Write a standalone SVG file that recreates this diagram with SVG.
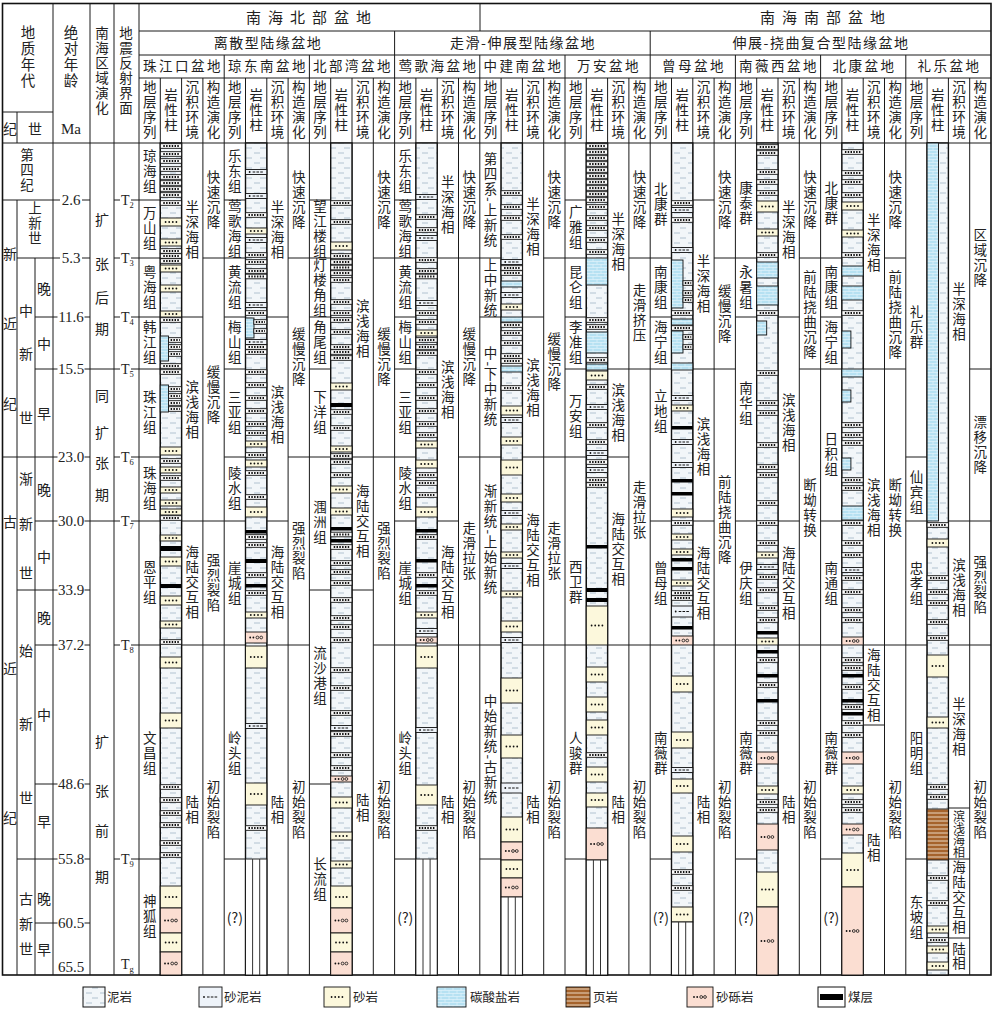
<svg xmlns="http://www.w3.org/2000/svg" xmlns:xlink="http://www.w3.org/1999/xlink" width="993" height="1013" viewBox="0 0 993 1013">
<style>
.g{stroke:#1a1a1a;stroke-width:1;fill:none}
.o{stroke:#111;stroke-width:1.6;fill:none}
.v{font-family:"Noto Sans CJK SC",sans-serif;font-size:13.5px;writing-mode:vertical-rl;text-anchor:middle;letter-spacing:1.5px;fill:#222}
.vl{font-family:"Noto Sans CJK SC",sans-serif;font-size:13.5px;writing-mode:vertical-rl;text-anchor:middle;letter-spacing:1.5px;fill:#222}
.c{font-family:"Noto Sans CJK SC",sans-serif;font-size:14px;text-anchor:middle;dominant-baseline:central;fill:#222}
.h{font-family:"Noto Sans CJK SC",sans-serif;font-size:14px;text-anchor:middle;fill:#222}
.lg{font-family:"Noto Sans CJK SC",sans-serif;font-size:12.5px;fill:#222}
.n{font-family:"Liberation Serif",serif;font-size:15px;text-anchor:middle;fill:#222}
.t{font-family:"Liberation Serif",serif;font-size:14px;fill:#222}
.lc{fill:url(#mud);stroke:#111;stroke-width:1.4}
.ss{fill:#fcf8dc;stroke:#111;stroke-width:.9}
.cb{fill:url(#carb);stroke:#111;stroke-width:.9}
.gr{fill:#fbded2;stroke:#111;stroke-width:.9}
.sm{fill:#eef3f9;stroke:#111;stroke-width:.9}
.sh{fill:url(#shale);stroke:#111;stroke-width:.9}
.vh{fill:#fff;stroke:#111;stroke-width:.9}
.tbx{fill:#fff;stroke:#111;stroke-width:.9}
.tbd{stroke:#111;stroke-width:2;stroke-dasharray:1.5 1.3;fill:none}
</style>
<defs>
<pattern id="mud" patternUnits="userSpaceOnUse" width="14" height="10"><rect width="14" height="10" fill="#f2f6f9"/><path d="M2 3h6M8 8h6" stroke="#a9bccb" stroke-width=".9"/></pattern>
<pattern id="carb" patternUnits="userSpaceOnUse" width="8" height="6"><rect width="8" height="6" fill="#b6e1f2"/><path d="M0 .5h8M0 3.5h8M1 .5v3M5 3.5v3" stroke="#e6f5fb" stroke-width=".6"/></pattern>
<pattern id="shale" patternUnits="userSpaceOnUse" width="6" height="4"><rect width="6" height="4" fill="#a5632c"/><path d="M0 1h6" stroke="#f2e4d2" stroke-width=".9"/></pattern>
<g id="d4" fill="#111"><circle cx="-5.4" r=".9"/><circle cx="-1.8" r=".9"/><circle cx="1.8" r=".9"/><circle cx="5.4" r=".9"/></g>
<g id="g4"><circle cx="-6" r=".9" fill="#111"/><circle cx="-2.8" r=".9" fill="#111"/><circle cx="1.2" r="1.4" fill="none" stroke="#111" stroke-width=".8"/><circle cx="5" r="1.4" fill="none" stroke="#111" stroke-width=".8"/></g>
<g id="smg"><circle cx="-6.5" r=".9" fill="#111"/><path d="M-3.5 0h2.6M.3 0h2.6M4.1 0h2.6" stroke="#111" stroke-width="1"/></g>
<g id="tb"><rect y="-2.3" width="21.3" height="4.6" class="tbx"/><path d="M3 0H18.5" class="tbd"/></g>
<g id="smb"><rect y="-2.5" width="21.3" height="5" class="sm"/><use href="#smg" x="10.65"/></g>
<g id="tbr"><rect x="8.3" y="-2.3" width="13" height="4.6" class="tbx"/><path d="M10.3 0H19.5" class="tbd"/></g>
<g id="tbr2"><rect x="11.5" y="-2.3" width="9.8" height="4.6" class="tbx"/><path d="M13.3 0H19.7" class="tbd"/></g>
</defs>
<rect width="993" height="1013" fill="#fff"/>

<g id="frame">
<rect x="2.5" y="3.5" width="988.5" height="971.5" class="o"/>
<path class="g" d="M53 3.5V975M90 3.5V975M114 3.5V975M139 3.5V975M480 3.5V31M394.6 31V55M650.2 31V55
M224.2 55V975M309.4 55V975M394.6 55V975M479.8 55V975M565 55V975M650.2 55V975M735.4 55V975M820.6 55V975M905.8 55V975
M160.3 78V975M181.6 78V975M202.9 78V975M245.5 78V975M266.8 78V975M288.1 78V975M330.7 78V975M352 78V975M373.3 78V975M415.9 78V975M437.2 78V975M458.5 78V975M501.1 78V975M522.4 78V975M543.7 78V975M586.3 78V975M607.6 78V975M628.9 78V975M671.5 78V975M692.8 78V975M714.1 78V975M756.7 78V975M778 78V975M799.3 78V975M841.9 78V975M863.2 78V975M884.5 78V975M927.1 78V975M948.4 78V975M969.7 78V975
M139 31H991M139 55H991M139 78H991M3 112H53M17 112V143M3 143H991"/>
</g>

<g id="header">
<text class="v" x="28" y="57" style="font-size:14.5px">地质年代</text>
<text class="v" x="71" y="57" style="font-size:14.5px">绝对年龄</text>
<text class="v" x="102" y="71">南海区域演化</text>
<text class="v" x="126" y="71">地震反射界面</text>
<text class="c" x="10" y="128">纪</text>
<text class="c" x="35" y="128">世</text>
<text class="n" x="71" y="134">Ma</text>
<text class="h" x="312" y="23" style="font-size:15px;letter-spacing:7px">南海北部盆地</text>
<text class="h" x="826" y="23" style="font-size:15px;letter-spacing:7px">南海南部盆地</text>
<text class="h" x="268" y="48" style="letter-spacing:1.5px">离散型陆缘盆地</text>
<text class="h" x="523" y="48" style="letter-spacing:1.5px">走滑-伸展型陆缘盆地</text>
<text class="h" x="821" y="48" style="letter-spacing:1.5px">伸展-挠曲复合型陆缘盆地</text>
<g class="h" style="font-size:13.5px;letter-spacing:2.5px">
<text x="183" y="71">珠江口盆地</text><text x="268" y="71">琼东南盆地</text><text x="353" y="71">北部湾盆地</text><text x="438.5" y="71">莺歌海盆地</text><text x="523.5" y="71">中建南盆地</text><text x="609" y="71">万安盆地</text><text x="694" y="71">曾母盆地</text><text x="779" y="71">南薇西盆地</text><text x="864.5" y="71">北康盆地</text><text x="949.5" y="71">礼乐盆地</text>
</g>
<g class="vl">
<text x="149.65" y="110">地层序列</text><text x="170.95" y="111">岩性柱</text><text x="192.25" y="110">沉积环境</text><text x="213.55" y="110">构造演化</text>
<text x="234.85" y="110">地层序列</text><text x="256.15" y="111">岩性柱</text><text x="277.45" y="110">沉积环境</text><text x="298.75" y="110">构造演化</text>
<text x="320.05" y="110">地层序列</text><text x="341.35" y="111">岩性柱</text><text x="362.65" y="110">沉积环境</text><text x="383.95" y="110">构造演化</text>
<text x="405.25" y="110">地层序列</text><text x="426.55" y="111">岩性柱</text><text x="447.85" y="110">沉积环境</text><text x="469.15" y="110">构造演化</text>
<text x="490.45" y="110">地层序列</text><text x="511.75" y="111">岩性柱</text><text x="533.05" y="110">沉积环境</text><text x="554.35" y="110">构造演化</text>
<text x="575.65" y="110">地层序列</text><text x="596.95" y="111">岩性柱</text><text x="618.25" y="110">沉积环境</text><text x="639.55" y="110">构造演化</text>
<text x="660.85" y="110">地层序列</text><text x="682.15" y="111">岩性柱</text><text x="703.45" y="110">沉积环境</text><text x="724.75" y="110">构造演化</text>
<text x="746.05" y="110">地层序列</text><text x="767.35" y="111">岩性柱</text><text x="788.65" y="110">沉积环境</text><text x="809.95" y="110">构造演化</text>
<text x="831.25" y="110">地层序列</text><text x="852.55" y="111">岩性柱</text><text x="873.85" y="110">沉积环境</text><text x="895.15" y="110">构造演化</text>
<text x="916.45" y="110">地层序列</text><text x="937.75" y="111">岩性柱</text><text x="959.05" y="110">沉积环境</text><text x="980.35" y="110">构造演化</text>
</g>
</g>

<g id="time-scale">
<path class="g" d="M3 200H53M17 258H53M35 317H53M35 369H53M3 457H53M35 521H53M17 590H53M35 645H53M35 784H53M17 859H53M35 923H53M17 200V975M35 258V975M90 369H114M90 521H114"/>
<text class="v" x="27" y="171">第四纪</text>
<text class="v" x="35" y="224">上新世</text>
<text class="c" x="10" y="253">新</text><text class="c" x="10" y="323">近</text><text class="c" x="10" y="403">纪</text>
<text class="c" x="10" y="521">古</text><text class="c" x="10" y="668">近</text><text class="c" x="10" y="817">纪</text>
<text class="c" x="26" y="310">中</text><text class="c" x="26" y="353">新</text><text class="c" x="26" y="417">世</text>
<text class="c" x="44" y="288">晚</text><text class="c" x="44" y="343">中</text><text class="c" x="44" y="413">早</text>
<text class="c" x="26" y="478">渐</text><text class="c" x="26" y="523">新</text><text class="c" x="26" y="572">世</text>
<text class="c" x="44" y="489">晚</text><text class="c" x="44" y="556">中</text>
<text class="c" x="26" y="650">始</text><text class="c" x="26" y="723">新</text><text class="c" x="26" y="797">世</text>
<text class="c" x="44" y="617">晚</text><text class="c" x="44" y="714">中</text><text class="c" x="44" y="821">早</text>
<text class="c" x="26" y="898">古</text><text class="c" x="26" y="923">新</text><text class="c" x="26" y="948">世</text>
<text class="c" x="44" y="898">晚</text><text class="c" x="44" y="949">早</text>
<path class="g" d="M53 200H60M82 200H90M53 258H60M82 258H90M53 317H57.5M84.5 317H90M53 369H57.5M84.5 369H90M53 457H57.5M84.5 457H90M53 521H57.5M84.5 521H90M53 590H57.5M84.5 590H90M53 645H57.5M84.5 645H90M53 784H57.5M84.5 784H90M53 859H57.5M84.5 859H90M53 923H57.5M84.5 923H90"/>
<text class="n" x="71" y="205">2.6</text><text class="n" x="71" y="263">5.3</text><text class="n" x="71" y="322">11.6</text><text class="n" x="71" y="374">15.5</text><text class="n" x="71" y="462">23.0</text><text class="n" x="71" y="526">30.0</text><text class="n" x="71" y="595">33.9</text><text class="n" x="71" y="650">37.2</text><text class="n" x="71" y="789">48.6</text><text class="n" x="71" y="864">55.8</text><text class="n" x="71" y="928">60.5</text><text class="n" x="71" y="972">65.5</text>
<text class="c" x="102" y="219">扩</text><text class="c" x="102" y="263">张</text><text class="c" x="102" y="297">后</text><text class="c" x="102" y="328">期</text>
<text class="c" x="102" y="395">同</text><text class="c" x="102" y="432">扩</text><text class="c" x="102" y="462">张</text><text class="c" x="102" y="494">期</text>
<text class="c" x="102" y="741">扩</text><text class="c" x="102" y="790">张</text><text class="c" x="102" y="830">前</text><text class="c" x="102" y="876">期</text>
<path class="g" d="M114 200H120M131 200H139M114 258H120M131 258H139M114 317H120M131 317H139M114 369H120M131 369H139M114 457H120M131 457H139M114 521H120M131 521H139M114 645H120M131 645H139M114 859H120M131 859H139"/>
<text class="t" x="121" y="205">T<tspan font-size="8.5" dy="3">2</tspan></text>
<text class="t" x="121" y="263">T<tspan font-size="8.5" dy="3">3</tspan></text>
<text class="t" x="121" y="322">T<tspan font-size="8.5" dy="3">4</tspan></text>
<text class="t" x="121" y="374">T<tspan font-size="8.5" dy="3">5</tspan></text>
<text class="t" x="121" y="462">T<tspan font-size="8.5" dy="3">6</tspan></text>
<text class="t" x="121" y="526">T<tspan font-size="8.5" dy="3">7</tspan></text>
<text class="t" x="121" y="650">T<tspan font-size="8.5" dy="3">8</tspan></text>
<text class="t" x="121" y="864">T<tspan font-size="8.5" dy="3">9</tspan></text>
<text class="t" x="121" y="969">T<tspan font-size="8.5" dy="3">g</tspan></text>
</g>

<g id="basin-zhujiangkou">
<path class="g" d="M139 200H160.3M139 258H160.3M139 317H160.3M139 369H160.3M139 457H160.3M139 521H160.3M139 645H160.3M139 859H160.3M181.6 317H202.9M181.6 521H202.9M181.6 645H202.9M202.9 258H224.2M202.9 521H224.2M202.9 645H224.2"/>
<g class="v"><text x="149.65" y="171.5">琼海组</text><text x="149.65" y="229">万山组</text><text x="149.65" y="287.5">粤海组</text><text x="149.65" y="343">韩江组</text><text x="149.65" y="413">珠江组</text><text x="149.65" y="489">珠海组</text><text x="149.65" y="583">恩平组</text><text x="149.65" y="754">文昌组</text><text x="149.65" y="917">神狐组</text>
<text x="192.25" y="230">半深海相</text><text x="192.25" y="410">滨浅海相</text><text x="192.25" y="583">海陆交互相</text><text x="192.25" y="810">陆相</text>
<text x="213.55" y="200.5">快速沉降</text><text x="213.55" y="395">缓慢沉降</text><text x="213.55" y="583">强烈裂陷</text><text x="213.55" y="810">初始裂陷</text></g>
<rect class="lc" x="160.3" y="143" width="21.3" height="832"/>
<rect class="cb" x="160.3" y="336" width="8.2" height="25"/><rect class="cb" x="160.3" y="385" width="8.2" height="27"/>
<rect class="ss" x="160.3" y="218" width="21.3" height="8"/><use href="#d4" x="171" y="222"/>
<rect class="ss" x="160.3" y="239" width="21.3" height="7"/><use href="#d4" x="171" y="242.5"/>
<rect class="ss" x="160.3" y="265" width="21.3" height="7"/><use href="#d4" x="171" y="268.5"/>
<rect class="ss" x="160.3" y="285" width="21.3" height="7"/><use href="#d4" x="171" y="288.5"/>
<rect class="ss" x="160.3" y="311" width="21.3" height="6"/><use href="#d4" x="171" y="314"/>
<rect class="ss" x="160.3" y="447" width="21.3" height="8"/><use href="#d4" x="171" y="451"/>
<rect class="ss" x="160.3" y="467" width="21.3" height="6"/><use href="#d4" x="171" y="470"/>
<rect class="ss" x="160.3" y="487" width="21.3" height="6"/><use href="#d4" x="171" y="490"/>
<rect class="ss" x="160.3" y="500" width="21.3" height="6"/><use href="#d4" x="171" y="503"/>
<rect class="ss" x="160.3" y="509" width="21.3" height="6"/><use href="#d4" x="171" y="512"/>
<rect class="ss" x="160.3" y="535" width="21.3" height="6"/><use href="#d4" x="171" y="538"/>
<rect class="ss" x="160.3" y="557" width="21.3" height="9"/><use href="#d4" x="171" y="561.5"/>
<rect class="ss" x="160.3" y="596" width="21.3" height="9"/><use href="#d4" x="171" y="600.5"/>
<rect class="ss" x="160.3" y="621" width="21.3" height="7"/><use href="#d4" x="171" y="624.5"/>
<rect class="ss" x="160.3" y="657" width="21.3" height="11"/><use href="#d4" x="171" y="662.5"/>
<rect class="ss" x="160.3" y="713" width="21.3" height="15"/><use href="#d4" x="171" y="720.5"/>
<rect class="ss" x="160.3" y="886" width="21.3" height="22"/><use href="#d4" x="171" y="897"/>
<rect class="gr" x="160.3" y="908" width="21.3" height="25"/><use href="#g4" x="171" y="920.5"/>
<rect class="ss" x="160.3" y="933" width="21.3" height="19"/><use href="#d4" x="171" y="942.5"/>
<rect class="gr" x="160.3" y="952" width="21.3" height="23"/><use href="#g4" x="171" y="963.5"/>
<rect x="160.3" y="546" width="21.3" height="5" fill="#000"/><rect x="160.3" y="584" width="21.3" height="4" fill="#000"/>
<g transform="translate(160.3 0)"><use href="#tb" y="146"/><use href="#tb" y="154"/><use href="#tb" y="161"/><use href="#tb" y="169"/><use href="#tb" y="177"/><use href="#tb" y="183"/><use href="#tb" y="189"/><use href="#tb" y="195"/><use href="#tb" y="203"/><use href="#tb" y="251"/><use href="#tb" y="256"/><use href="#tb" y="261"/><use href="#tb" y="320"/><use href="#tb" y="366"/><use href="#tb" y="372"/><use href="#tb" y="461"/><use href="#tb" y="478"/><use href="#tb" y="518"/><use href="#tb" y="642"/><use href="#tb" y="787"/><use href="#tb" y="800"/><use href="#tb" y="813"/><use href="#tb" y="825"/><use href="#tb" y="843"/><use href="#tb" y="855"/>
<use href="#tbr" y="340"/><use href="#tbr" y="347"/><use href="#tbr" y="354"/><use href="#tbr" y="389"/><use href="#tbr" y="396"/><use href="#tbr" y="403"/><use href="#tbr" y="409"/></g>
</g>

<g id="basin-qiongdongnan">
<path class="g" d="M224.2 200H245.5M224.2 258H245.5M224.2 317H245.5M224.2 369H245.5M224.2 457H245.5M224.2 521H245.5M224.2 645H245.5M224.2 859H245.5M266.8 317H288.1M266.8 521H288.1M266.8 645H288.1M288.1 258H309.4M288.1 457H309.4M288.1 645H309.4"/>
<g class="v"><text x="234.85" y="171.5">乐东组</text><text x="234.85" y="229">莺歌海组</text><text x="234.85" y="287.5">黄流组</text><text x="234.85" y="343">梅山组</text><text x="234.85" y="413">三亚组</text><text x="234.85" y="489">陵水组</text><text x="234.85" y="584">崖城组</text><text x="234.85" y="754">岭头组</text>
<text x="277.45" y="230">半深海相</text><text x="277.45" y="415">滨浅海相</text><text x="277.45" y="583">海陆交互相</text><text x="277.45" y="810">陆相</text>
<text x="298.75" y="200.5">快速沉降</text><text x="298.75" y="357">缓慢沉降</text><text x="298.75" y="551">强烈裂陷</text><text x="298.75" y="810">初始裂陷</text></g>
<text class="h" x="234.85" y="923">(?)</text>
<rect class="lc" x="245.5" y="143" width="21.3" height="832"/>
<rect class="cb" x="245.5" y="318" width="8.5" height="20"/>
<rect class="ss" x="245.5" y="228" width="21.3" height="6"/><use href="#d4" x="256.2" y="231"/>
<rect class="ss" x="245.5" y="441" width="21.3" height="6"/><use href="#d4" x="256.2" y="444"/>
<rect class="ss" x="245.5" y="460" width="21.3" height="7"/><use href="#d4" x="256.2" y="463.5"/>
<rect class="ss" x="245.5" y="507" width="21.3" height="10"/><use href="#d4" x="256.2" y="512"/>
<rect class="ss" x="245.5" y="612" width="21.3" height="6"/><use href="#d4" x="256.2" y="615"/>
<rect class="gr" x="245.5" y="632" width="21.3" height="11"/><use href="#g4" x="256.2" y="637.5"/>
<rect class="ss" x="245.5" y="646" width="21.3" height="22"/><use href="#d4" x="256.2" y="657"/>
<rect class="ss" x="245.5" y="783" width="21.3" height="22"/><use href="#d4" x="256.2" y="794"/>
<rect x="245.5" y="530" width="21.3" height="3.5" fill="#000"/><rect x="245.5" y="559" width="21.3" height="4" fill="#000"/><rect x="245.5" y="584" width="21.3" height="3.5" fill="#000"/>
<rect class="vh" x="245.5" y="859" width="21.3" height="116"/><path d="M252.6 859V975M259.7 859V975" stroke="#333" stroke-width="1"/>
<g transform="translate(245.5 0)"><use href="#tb" y="215"/><use href="#tb" y="255"/><use href="#tb" y="262"/><use href="#tb" y="271"/><use href="#tb" y="276.5"/><use href="#tb" y="313"/><use href="#tb" y="347"/><use href="#tb" y="352"/><use href="#tb" y="372"/><use href="#tb" y="385"/><use href="#tb" y="398"/><use href="#tb" y="411"/><use href="#tb" y="424"/><use href="#tb" y="433"/><use href="#tb" y="455"/><use href="#tb" y="473"/><use href="#tb" y="497"/><use href="#tb" y="537"/><use href="#tb" y="545"/><use href="#tb" y="575"/><use href="#tb" y="593"/><use href="#tb" y="828"/>
<use href="#smb" y="172"/><use href="#smb" y="196"/><use href="#smb" y="240"/><use href="#smb" y="305"/><use href="#smb" y="342"/><use href="#smb" y="726"/>
<use href="#tbr" y="322"/><use href="#tbr" y="331"/></g>
</g>

<g id="basin-beibuwan">
<path class="g" d="M309.4 200H330.7M309.4 258H330.7M309.4 317H330.7M309.4 369H330.7M309.4 457H330.7M309.4 590H330.7M309.4 784H330.7M352 457H373.3M352 590H373.3M373.3 258H394.6M373.3 457H394.6M373.3 645H394.6"/>
<g class="v"><text x="320.05" y="229">望江楼组</text><text x="320.05" y="288">灯楼角组</text><text x="320.05" y="343">角尾组</text><text x="320.05" y="413">下洋组</text><text x="320.05" y="523">涠洲组</text><text x="320.05" y="676">流沙港组</text><text x="320.05" y="880">长流组</text>
<text x="362.65" y="329">滨浅海相</text><text x="362.65" y="522">海陆交互相</text><text x="362.65" y="808">陆相</text>
<text x="383.95" y="200.5">快速沉降</text><text x="383.95" y="357">缓慢沉降</text><text x="383.95" y="551">强烈裂陷</text><text x="383.95" y="810">初始裂陷</text></g>
<rect class="lc" x="330.7" y="143" width="21.3" height="832"/>
<rect class="ss" x="330.7" y="242" width="21.3" height="8"/><use href="#d4" x="341.4" y="246"/>
<rect class="ss" x="330.7" y="383" width="21.3" height="7"/><use href="#d4" x="341.4" y="386.5"/>
<rect class="ss" x="330.7" y="446" width="21.3" height="6"/><use href="#d4" x="341.4" y="449"/>
<rect class="ss" x="330.7" y="486" width="21.3" height="7"/><use href="#d4" x="341.4" y="489.5"/>
<rect class="ss" x="330.7" y="508" width="21.3" height="7"/><use href="#d4" x="341.4" y="511.5"/>
<rect class="gr" x="330.7" y="776" width="21.3" height="6"/><use href="#g4" x="341.4" y="779"/>
<rect class="ss" x="330.7" y="797" width="21.3" height="11"/><use href="#d4" x="341.4" y="802.5"/>
<rect class="ss" x="330.7" y="832" width="21.3" height="8"/><use href="#d4" x="341.4" y="836"/>
<rect class="ss" x="330.7" y="861" width="21.3" height="7"/><use href="#d4" x="341.4" y="864.5"/>
<rect class="ss" x="330.7" y="886" width="21.3" height="22"/><use href="#d4" x="341.4" y="897"/>
<rect class="gr" x="330.7" y="908" width="21.3" height="25"/><use href="#g4" x="341.4" y="920.5"/>
<rect class="ss" x="330.7" y="933" width="21.3" height="19"/><use href="#d4" x="341.4" y="942.5"/>
<rect class="gr" x="330.7" y="952" width="21.3" height="23"/><use href="#g4" x="341.4" y="963.5"/>
<rect x="330.7" y="403" width="21.3" height="4" fill="#000"/><rect x="330.7" y="527" width="21.3" height="3.5" fill="#000"/><rect x="330.7" y="539" width="21.3" height="3.5" fill="#000"/>
<g transform="translate(330.7 0)"><use href="#tb" y="203"/><use href="#tb" y="222"/><use href="#tb" y="256"/><use href="#tb" y="262"/><use href="#tb" y="267.5"/><use href="#tb" y="273"/><use href="#tb" y="280"/><use href="#tb" y="302"/><use href="#tb" y="313"/><use href="#tb" y="320"/><use href="#tb" y="332"/><use href="#tb" y="347"/><use href="#tb" y="352"/><use href="#tb" y="358"/><use href="#tb" y="412"/><use href="#tb" y="428"/><use href="#tb" y="456"/><use href="#tb" y="462"/><use href="#tb" y="475"/><use href="#tb" y="534.5"/><use href="#tb" y="547"/><use href="#tb" y="563"/><use href="#tb" y="572"/><use href="#tb" y="583"/><use href="#tb" y="600"/><use href="#tb" y="618"/><use href="#tb" y="627"/><use href="#tb" y="640"/><use href="#tb" y="670"/><use href="#tb" y="688"/><use href="#tb" y="713"/><use href="#tb" y="734"/><use href="#tb" y="755"/><use href="#tb" y="768"/><use href="#smb" y="728"/></g>
</g>

<g id="basin-yinggehai">
<path class="g" d="M394.6 200H415.9M394.6 258H415.9M394.6 317H415.9M394.6 369H415.9M394.6 457H415.9M394.6 521H415.9M394.6 645H415.9M394.6 859H415.9M437.2 258H458.5M437.2 521H458.5M437.2 645H458.5M458.5 258H479.8M458.5 457H479.8M458.5 645H479.8"/>
<g class="v"><text x="405.25" y="171.5">乐东组</text><text x="405.25" y="229">莺歌海组</text><text x="405.25" y="287.5">黄流组</text><text x="405.25" y="343">梅山组</text><text x="405.25" y="413">三亚组</text><text x="405.25" y="489">陵水组</text><text x="405.25" y="584">崖城组</text><text x="405.25" y="754">岭头组</text>
<text x="447.85" y="205">半深海相</text><text x="447.85" y="390">滨浅海相</text><text x="447.85" y="583">海陆交互相</text><text x="447.85" y="810">陆相</text>
<text x="469.15" y="200.5">快速沉降</text><text x="469.15" y="357">缓慢沉降</text><text x="469.15" y="551">走滑拉张</text><text x="469.15" y="810">初始裂陷</text></g>
<text class="h" x="405.25" y="923">(?)</text>
<rect class="lc" x="415.9" y="143" width="21.3" height="832"/>
<rect class="ss" x="415.9" y="330" width="21.3" height="6"/><use href="#d4" x="426.6" y="333"/>
<rect class="ss" x="415.9" y="441" width="21.3" height="7"/><use href="#d4" x="426.6" y="444.5"/>
<rect class="ss" x="415.9" y="460" width="21.3" height="8"/><use href="#d4" x="426.6" y="464"/>
<rect class="ss" x="415.9" y="507" width="21.3" height="10"/><use href="#d4" x="426.6" y="512"/>
<rect class="ss" x="415.9" y="612" width="21.3" height="6"/><use href="#d4" x="426.6" y="615"/>
<rect class="gr" x="415.9" y="637" width="21.3" height="6"/><use href="#g4" x="426.6" y="640"/>
<rect class="ss" x="415.9" y="646" width="21.3" height="22"/><use href="#d4" x="426.6" y="657"/>
<rect class="ss" x="415.9" y="785" width="21.3" height="20"/><use href="#d4" x="426.6" y="795"/>
<rect x="415.9" y="529" width="21.3" height="3.5" fill="#000"/><rect x="415.9" y="559" width="21.3" height="3.5" fill="#000"/><rect x="415.9" y="584" width="21.3" height="3.5" fill="#000"/>
<rect class="vh" x="415.9" y="859" width="21.3" height="116"/><path d="M423 859V975M430.1 859V975" stroke="#333" stroke-width="1"/>
<g transform="translate(415.9 0)"><use href="#tb" y="217"/><use href="#tb" y="230"/><use href="#tb" y="260"/><use href="#tb" y="271"/><use href="#tb" y="276.5"/><use href="#tb" y="313"/><use href="#tb" y="322"/><use href="#tb" y="340"/><use href="#tb" y="347"/><use href="#tb" y="353"/><use href="#tb" y="372"/><use href="#tb" y="385"/><use href="#tb" y="398"/><use href="#tb" y="411"/><use href="#tb" y="424"/><use href="#tb" y="435"/><use href="#tb" y="475"/><use href="#tb" y="483"/><use href="#tb" y="495"/><use href="#tb" y="537"/><use href="#tb" y="575"/><use href="#tb" y="593"/><use href="#tb" y="828"/>
<use href="#smb" y="197"/><use href="#smb" y="238"/><use href="#smb" y="303"/><use href="#smb" y="631"/><use href="#smb" y="730"/></g>
</g>

<g id="basin-zhongjiannan">
<path class="g" d="M479.8 258H501.1M479.8 317H501.1M479.8 457H501.1M479.8 645H501.1M479.8 859H501.1M522.4 317H543.7M522.4 457H543.7M522.4 645H543.7M543.7 258H565M543.7 457H565M543.7 645H565"/>
<g class="v"><text x="490.45" y="200">第四系-上新统</text><text x="490.45" y="288">上中新统</text><text x="490.45" y="387">中-下中新统</text><text x="490.45" y="540">渐新统-上始新统</text><text x="490.45" y="750">中始新统-古新统</text>
<text x="533.05" y="227">半深海相</text><text x="533.05" y="388">滨浅海相</text><text x="533.05" y="551">海陆交互相</text><text x="533.05" y="810">陆相</text>
<text x="554.35" y="200.5">快速沉降</text><text x="554.35" y="362">缓慢沉降</text><text x="554.35" y="551">走滑拉张</text><text x="554.35" y="810">初始裂陷</text></g>
<rect class="lc" x="501.1" y="143" width="21.3" height="832"/>
<rect class="cb" x="501.1" y="281" width="21.3" height="6"/><rect class="cb" x="501.1" y="317" width="21.3" height="5"/><rect class="cb" x="501.1" y="366" width="21.3" height="6"/>
<rect class="ss" x="501.1" y="304" width="21.3" height="6"/><use href="#d4" x="511.8" y="307"/>
<rect class="ss" x="501.1" y="406" width="21.3" height="9"/><use href="#d4" x="511.8" y="410.5"/>
<rect class="ss" x="501.1" y="437" width="21.3" height="8"/><use href="#d4" x="511.8" y="441"/>
<rect class="ss" x="501.1" y="460" width="21.3" height="15"/><use href="#d4" x="511.8" y="467.5"/>
<rect class="ss" x="501.1" y="494" width="21.3" height="8"/><use href="#d4" x="511.8" y="498"/>
<rect class="ss" x="501.1" y="524" width="21.3" height="6"/><use href="#d4" x="511.8" y="527"/>
<rect class="ss" x="501.1" y="552" width="21.3" height="6"/><use href="#d4" x="511.8" y="555"/>
<rect class="ss" x="501.1" y="591" width="21.3" height="6"/><use href="#d4" x="511.8" y="594"/>
<rect class="ss" x="501.1" y="621" width="21.3" height="11"/><use href="#d4" x="511.8" y="626.5"/>
<rect class="ss" x="501.1" y="678" width="21.3" height="25"/><use href="#d4" x="511.8" y="690.5"/>
<rect class="ss" x="501.1" y="735" width="21.3" height="23"/><use href="#d4" x="511.8" y="746.5"/>
<rect class="sm" x="501.1" y="783" width="21.3" height="10"/><use href="#smg" x="511.8" y="788"/>
<rect class="ss" x="501.1" y="817" width="21.3" height="25"/><use href="#d4" x="511.8" y="829.5"/>
<rect class="gr" x="501.1" y="842" width="21.3" height="18"/><use href="#g4" x="511.8" y="851"/>
<rect class="ss" x="501.1" y="860" width="21.3" height="18"/><use href="#d4" x="511.8" y="869"/>
<rect class="gr" x="501.1" y="878" width="21.3" height="19"/><use href="#g4" x="511.8" y="887.5"/>
<rect class="vh" x="501.1" y="897" width="21.3" height="78"/><path d="M508.2 897V975M515.3 897V975" stroke="#333" stroke-width="1"/>
<g transform="translate(501.1 0)"><use href="#tb" y="193"/><use href="#tb" y="207"/><use href="#tb" y="218"/><use href="#tb" y="237"/><use href="#tb" y="268"/><use href="#tb" y="273"/><use href="#tb" y="325"/><use href="#tb" y="333"/><use href="#tb" y="343"/><use href="#tb" y="356"/><use href="#tb" y="361"/><use href="#tb" y="388"/>
<use href="#smb" y="262"/><use href="#smb" y="295"/><use href="#smb" y="420"/><use href="#smb" y="513"/><use href="#smb" y="566"/><use href="#smb" y="640"/></g>
</g>

<g id="basin-wanan">
<path class="g" d="M565 200H586.3M565 258H586.3M565 317H586.3M565 369H586.3M565 457H586.3M565 645H586.3M565 859H586.3M607.6 369H628.9M607.6 457H628.9M607.6 645H628.9M628.9 258H650.2M628.9 369H650.2M628.9 645H650.2"/>
<g class="v"><text x="575.65" y="228">广雅组</text><text x="575.65" y="288">昆仑组</text><text x="575.65" y="343">李准组</text><text x="575.65" y="417">万安组</text><text x="575.65" y="583">西卫群</text><text x="575.65" y="754">人骏群</text>
<text x="618.25" y="242">半深海相</text><text x="618.25" y="413">滨浅海相</text><text x="618.25" y="550">海陆交互相</text><text x="618.25" y="810">陆相</text>
<text x="639.55" y="200.5">快速沉降</text><text x="639.55" y="313">走滑挤压</text><text x="639.55" y="510">走滑拉张</text><text x="639.55" y="810">初始裂陷</text></g>
<rect class="lc" x="586.3" y="143" width="21.3" height="832"/>
<rect class="cb" x="586.3" y="258" width="21.3" height="27"/><rect class="cb" x="586.3" y="332" width="21.3" height="21"/><rect class="cb" x="586.3" y="364" width="21.3" height="6"/>
<rect class="ss" x="586.3" y="371" width="21.3" height="9"/><use href="#d4" x="597" y="375.5"/>
<rect class="ss" x="586.3" y="606" width="21.3" height="39"/><use href="#d4" x="597" y="625.5"/>
<rect class="ss" x="586.3" y="667" width="21.3" height="15"/><use href="#d4" x="597" y="674.5"/>
<rect class="ss" x="586.3" y="697" width="21.3" height="15"/><use href="#d4" x="597" y="704.5"/>
<rect class="ss" x="586.3" y="720" width="21.3" height="15"/><use href="#d4" x="597" y="727.5"/>
<rect class="ss" x="586.3" y="767" width="21.3" height="15"/><use href="#d4" x="597" y="774.5"/>
<rect class="ss" x="586.3" y="793" width="21.3" height="14"/><use href="#d4" x="597" y="800"/>
<rect class="gr" x="586.3" y="828" width="21.3" height="32"/><use href="#g4" x="597" y="844"/>
<rect x="586.3" y="545" width="21.3" height="3.5" fill="#000"/><rect x="586.3" y="588" width="21.3" height="4" fill="#000"/><rect x="586.3" y="598" width="21.3" height="4" fill="#000"/>
<rect class="vh" x="586.3" y="860" width="21.3" height="115"/><path d="M593.4 860V975M600.5 860V975" stroke="#333" stroke-width="1"/>
<g transform="translate(586.3 0)"><use href="#tb" y="146"/><use href="#tb" y="152"/><use href="#tb" y="158"/><use href="#tb" y="164"/><use href="#tb" y="170"/><use href="#tb" y="176"/><use href="#tb" y="182"/><use href="#tb" y="188"/><use href="#tb" y="194"/><use href="#tb" y="200"/><use href="#tb" y="207"/><use href="#tb" y="218"/><use href="#tb" y="228"/><use href="#tb" y="240"/><use href="#tb" y="252"/><use href="#tb" y="320"/><use href="#tb" y="327"/><use href="#tb" y="360"/><use href="#tb" y="387"/><use href="#tb" y="425"/><use href="#tb" y="442"/><use href="#tb" y="462"/><use href="#tb" y="480"/><use href="#tb" y="485"/><use href="#tb" y="755"/>
<use href="#smb" y="407"/><use href="#smb" y="453"/><use href="#smb" y="470"/></g>
</g>

<g id="basin-zengmu">
<path class="g" d="M650.2 258H671.5M650.2 317H671.5M650.2 369H671.5M650.2 521H671.5M650.2 645H671.5M650.2 859H671.5M692.8 200H714.1M692.8 369H714.1M692.8 521H714.1M692.8 645H714.1M714.1 258H735.4M714.1 369H735.4M714.1 645H735.4"/>
<g class="v"><text x="660.85" y="205">北康群</text><text x="660.85" y="288">南康组</text><text x="660.85" y="343">海宁组</text><text x="660.85" y="412">立地组</text><text x="660.85" y="584">曾母组</text><text x="660.85" y="754">南薇群</text>
<text x="703.45" y="284">半深海相</text><text x="703.45" y="447">滨浅海相</text><text x="703.45" y="584">海陆交互相</text><text x="703.45" y="810">陆相</text>
<text x="724.75" y="200.5">快速沉降</text><text x="724.75" y="314">缓慢沉降</text><text x="724.75" y="520">前陆挠曲沉降</text><text x="724.75" y="810">初始裂陷</text></g>
<text class="h" x="660.85" y="923">(?)</text>
<rect class="lc" x="671.5" y="143" width="21.3" height="832"/>
<rect class="cb" x="671.5" y="260" width="11.5" height="48"/><rect class="cb" x="671.5" y="331" width="11.5" height="22"/><rect class="cb" x="671.5" y="319" width="21.3" height="6"/><rect class="cb" x="671.5" y="363" width="21.3" height="7"/>
<rect class="ss" x="671.5" y="405" width="21.3" height="6"/><use href="#d4" x="682.2" y="408"/>
<rect class="ss" x="671.5" y="509" width="21.3" height="8"/><use href="#d4" x="682.2" y="513"/>
<rect class="ss" x="671.5" y="534" width="21.3" height="6"/><use href="#d4" x="682.2" y="537"/>
<rect class="ss" x="671.5" y="549" width="21.3" height="6"/><use href="#d4" x="682.2" y="552"/>
<rect class="ss" x="671.5" y="580" width="21.3" height="6"/><use href="#d4" x="682.2" y="583"/>
<rect class="sm" x="671.5" y="606" width="21.3" height="11"/><use href="#smg" x="682.2" y="611.5"/>
<rect class="gr" x="671.5" y="636" width="21.3" height="9"/><use href="#g4" x="682.2" y="640.5"/>
<rect class="ss" x="671.5" y="676" width="21.3" height="16"/><use href="#d4" x="682.2" y="684"/>
<rect class="ss" x="671.5" y="732" width="21.3" height="16"/><use href="#d4" x="682.2" y="740"/>
<rect class="ss" x="671.5" y="779" width="21.3" height="14"/><use href="#d4" x="682.2" y="786"/>
<rect class="ss" x="671.5" y="836" width="21.3" height="16"/><use href="#d4" x="682.2" y="844"/>
<rect class="ss" x="671.5" y="907" width="21.3" height="15"/><use href="#d4" x="682.2" y="914.5"/>
<rect x="671.5" y="426" width="21.3" height="3.5" fill="#000"/><rect x="671.5" y="479" width="21.3" height="3.5" fill="#000"/><rect x="671.5" y="492" width="21.3" height="3.5" fill="#000"/><rect x="671.5" y="558" width="21.3" height="3.5" fill="#000"/><rect x="671.5" y="567" width="21.3" height="3.5" fill="#000"/><rect x="671.5" y="626" width="21.3" height="3.5" fill="#000"/>
<rect class="vh" x="671.5" y="922" width="21.3" height="53"/><path d="M678.6 922V975M685.7 922V975" stroke="#333" stroke-width="1"/>
<g transform="translate(671.5 0)"><use href="#tb" y="203"/><use href="#tb" y="220"/><use href="#tb" y="313"/><use href="#tb" y="328"/><use href="#tb" y="523"/><use href="#tb" y="593"/><use href="#tb" y="598"/><use href="#tb" y="872"/><use href="#tb" y="888"/>
<use href="#smb" y="210"/><use href="#smb" y="250"/><use href="#smb" y="398"/><use href="#smb" y="442"/><use href="#smb" y="465"/><use href="#smb" y="770"/>
<use href="#tbr2" y="283"/><use href="#tbr2" y="293"/><use href="#tbr2" y="300"/><use href="#tbr2" y="337"/><use href="#tbr2" y="347"/></g>
</g>

<g id="basin-nanweixi">
<path class="g" d="M735.4 258H756.7M735.4 317H756.7M735.4 521H756.7M735.4 645H756.7M735.4 859H756.7M778 317H799.3M778 521H799.3M778 645H799.3M799.3 258H820.6M799.3 369H820.6M799.3 645H820.6"/>
<g class="v"><text x="746.05" y="204">康泰群</text><text x="746.05" y="288">永暑组</text><text x="746.05" y="404">南华组</text><text x="746.05" y="584">伊庆组</text><text x="746.05" y="754">南薇群</text>
<text x="788.65" y="230">半深海相</text><text x="788.65" y="423">滨浅海相</text><text x="788.65" y="584">海陆交互相</text><text x="788.65" y="810">陆相</text>
<text x="809.95" y="200.5">快速沉降</text><text x="809.95" y="315">前陆挠曲沉降</text><text x="809.95" y="508">断坳转换</text><text x="809.95" y="810">初始裂陷</text></g>
<text class="h" x="746.05" y="923">(?)</text>
<rect class="lc" x="756.7" y="143" width="21.3" height="832"/>
<rect class="cb" x="756.7" y="262" width="21.3" height="16"/><rect class="cb" x="756.7" y="286" width="21.3" height="19"/><rect class="cb" x="756.7" y="321" width="10" height="14"/>
<rect class="ss" x="756.7" y="201" width="21.3" height="11"/><use href="#d4" x="767.4" y="206.5"/>
<rect class="ss" x="756.7" y="229" width="21.3" height="7"/><use href="#d4" x="767.4" y="232.5"/>
<rect class="ss" x="756.7" y="552" width="21.3" height="6"/><use href="#d4" x="767.4" y="555"/>
<rect class="ss" x="756.7" y="638" width="21.3" height="7"/><use href="#d4" x="767.4" y="641.5"/>
<rect class="gr" x="756.7" y="752" width="21.3" height="12"/><use href="#g4" x="767.4" y="758"/>
<rect class="ss" x="756.7" y="786" width="21.3" height="8"/><use href="#d4" x="767.4" y="790"/>
<rect class="gr" x="756.7" y="824" width="21.3" height="26"/><use href="#g4" x="767.4" y="837"/>
<rect class="ss" x="756.7" y="872" width="21.3" height="35"/><use href="#d4" x="767.4" y="889.5"/>
<rect class="gr" x="756.7" y="907" width="21.3" height="68"/><use href="#g4" x="767.4" y="941"/>
<rect x="756.7" y="631" width="21.3" height="3.5" fill="#000"/><rect x="756.7" y="650" width="21.3" height="3.5" fill="#000"/><rect x="756.7" y="674" width="21.3" height="3.5" fill="#000"/><rect x="756.7" y="699" width="21.3" height="3.5" fill="#000"/>
<g transform="translate(756.7 0)"><use href="#tb" y="147"/><use href="#tb" y="153"/><use href="#tb" y="172"/><use href="#tb" y="182"/><use href="#tb" y="193"/><use href="#tb" y="255"/><use href="#tb" y="313"/><use href="#tb" y="373"/><use href="#tb" y="403"/><use href="#tb" y="413"/><use href="#tb" y="445"/><use href="#tb" y="467"/><use href="#tb" y="475"/><use href="#tb" y="503"/><use href="#tb" y="523"/><use href="#tb" y="543"/><use href="#tb" y="577"/><use href="#tb" y="590"/><use href="#tb" y="608"/><use href="#tb" y="620"/><use href="#tb" y="660"/><use href="#tb" y="685"/><use href="#tb" y="723"/><use href="#tb" y="733"/><use href="#tb" y="802"/><use href="#tb" y="810"/><use href="#smb" y="567"/></g>
</g>

<g id="basin-beikang">
<path class="g" d="M820.6 258H841.9M820.6 317H841.9M820.6 369H841.9M820.6 521H841.9M820.6 645H841.9M820.6 859H841.9M863.2 369H884.5M863.2 645H884.5M863.2 725H884.5M884.5 258H905.8M884.5 369H905.8M884.5 645H905.8"/>
<g class="v"><text x="831.25" y="204">北康群</text><text x="831.25" y="288">南康组</text><text x="831.25" y="343">海宁组</text><text x="831.25" y="455">日积组</text><text x="831.25" y="584">南通组</text><text x="831.25" y="754">南薇群</text>
<text x="873.85" y="243">半深海相</text><text x="873.85" y="508">滨浅海相</text><text x="873.85" y="686">海陆交互相</text><text x="873.85" y="848">陆相</text>
<text x="895.15" y="200.5">快速沉降</text><text x="895.15" y="315">前陆挠曲沉降</text><text x="895.15" y="508">断坳转换</text><text x="895.15" y="810">初始裂陷</text></g>
<text class="h" x="831.25" y="923">(?)</text>
<rect class="lc" x="841.9" y="143" width="21.3" height="832"/>
<rect class="cb" x="841.9" y="266" width="21.3" height="10"/><rect class="cb" x="841.9" y="286" width="21.3" height="14"/><rect class="cb" x="841.9" y="369" width="21.3" height="8"/><rect class="cb" x="841.9" y="506" width="21.3" height="14"/>
<rect class="cb" x="841.9" y="331" width="9" height="17"/><rect class="cb" x="841.9" y="390" width="9" height="12"/><rect class="cb" x="841.9" y="458" width="9" height="12"/>
<rect class="ss" x="841.9" y="202" width="21.3" height="8"/><use href="#d4" x="852.6" y="206"/>
<rect class="ss" x="841.9" y="230" width="21.3" height="7"/><use href="#d4" x="852.6" y="233.5"/>
<rect class="gr" x="841.9" y="637" width="21.3" height="8"/><use href="#g4" x="852.6" y="641"/>
<rect class="gr" x="841.9" y="752" width="21.3" height="12"/><use href="#g4" x="852.6" y="758"/>
<rect class="ss" x="841.9" y="786" width="21.3" height="8"/><use href="#d4" x="852.6" y="790"/>
<rect class="gr" x="841.9" y="824" width="21.3" height="11"/><use href="#g4" x="852.6" y="829.5"/>
<rect class="ss" x="841.9" y="853" width="21.3" height="34"/><use href="#d4" x="852.6" y="870"/>
<rect class="gr" x="841.9" y="887" width="21.3" height="88"/><use href="#g4" x="852.6" y="931"/>
<rect x="841.9" y="674" width="21.3" height="3.5" fill="#000"/><rect x="841.9" y="699" width="21.3" height="3.5" fill="#000"/><rect x="841.9" y="712" width="21.3" height="3.5" fill="#000"/>
<g transform="translate(841.9 0)"><use href="#tb" y="152"/><use href="#tb" y="173"/><use href="#tb" y="182"/><use href="#tb" y="195"/><use href="#tb" y="255"/><use href="#tb" y="313"/><use href="#tb" y="425"/><use href="#tb" y="435"/><use href="#tb" y="443"/><use href="#tb" y="480"/><use href="#tb" y="488"/><use href="#tb" y="523"/><use href="#tb" y="543"/><use href="#tb" y="555"/><use href="#tb" y="578"/><use href="#tb" y="592"/><use href="#tb" y="610"/><use href="#tb" y="620"/><use href="#tb" y="660"/><use href="#tb" y="668"/><use href="#tb" y="687"/><use href="#tb" y="707"/><use href="#tb" y="723"/><use href="#tb" y="735"/><use href="#tb" y="802"/><use href="#tb" y="810"/><use href="#smb" y="570"/></g>
</g>

<g id="basin-liyue">
<path class="g" d="M905.8 457H927.1M905.8 521H927.1M905.8 645H927.1M905.8 859H927.1M948.4 521H969.7M948.4 645H969.7M948.4 808H969.7M948.4 859H969.7M948.4 938H969.7M969.7 369H991M969.7 521H991M969.7 645H991"/>
<g class="v"><text x="916.45" y="328">礼乐群</text><text x="916.45" y="493">仙宾组</text><text x="916.45" y="584">忠孝组</text><text x="916.45" y="754">阳明组</text><text x="916.45" y="918">东坡组</text>
<text x="959.05" y="312">半深海相</text><text x="959.05" y="588">滨浅海相</text><text x="959.05" y="727">半深海相</text><text x="959.05" y="834" style="font-size:12px;letter-spacing:0">滨浅海相</text><text x="959.05" y="898">海陆交互相</text><text x="959.05" y="956" style="letter-spacing:0">陆相</text>
<text x="980.35" y="258">区域沉降</text><text x="980.35" y="445">漂移沉降</text><text x="980.35" y="585">强烈裂陷</text><text x="980.35" y="810">初始裂陷</text></g>
<rect class="lc" x="927.1" y="143" width="21.3" height="832"/>
<rect class="cb" x="927.1" y="143" width="11.4" height="378"/>
<rect class="ss" x="927.1" y="539" width="21.3" height="8"/><use href="#d4" x="937.8" y="543"/>
<rect class="ss" x="927.1" y="655" width="21.3" height="22"/><use href="#d4" x="937.8" y="666"/>
<rect class="ss" x="927.1" y="717" width="21.3" height="11"/><use href="#d4" x="937.8" y="722.5"/>
<rect class="sh" x="927.1" y="809" width="21.3" height="51"/>
<rect class="ss" x="927.1" y="926" width="21.3" height="7"/><use href="#d4" x="937.8" y="929.5"/>
<rect class="ss" x="927.1" y="946" width="21.3" height="7"/><use href="#d4" x="937.8" y="949.5"/>
<rect class="ss" x="927.1" y="962" width="21.3" height="8"/><use href="#d4" x="937.8" y="966"/>
<g transform="translate(927.1 0)"><use href="#tb" y="525"/><use href="#tb" y="578"/><use href="#tb" y="592"/><use href="#tb" y="603"/><use href="#tb" y="622"/><use href="#tb" y="638"/><use href="#tb" y="787"/><use href="#tb" y="797"/><use href="#tb" y="878"/><use href="#tb" y="903"/><use href="#tb" y="940"/></g>
</g>

<g id="legend">
<rect x="83" y="987" width="22" height="20" fill="url(#mud)" stroke="#111" stroke-width="1"/><text class="lg" x="107" y="1002">泥岩</text>
<rect x="199" y="987" width="23" height="20" class="sm"/><use href="#smg" x="210.5" y="997"/><text class="lg" x="224" y="1002">砂泥岩</text>
<rect x="324" y="987" width="26" height="20" class="ss"/><use href="#d4" x="337" y="997"/><text class="lg" x="353" y="1002">砂岩</text>
<rect x="437" y="987" width="29" height="20" class="cb"/><text class="lg" x="470" y="1002">碳酸盐岩</text>
<rect x="566" y="987" width="24" height="20" class="sh"/><text class="lg" x="593" y="1002">页岩</text>
<rect x="687" y="987" width="26" height="20" class="gr"/><use href="#g4" x="700" y="997"/><text class="lg" x="716" y="1002">砂砾岩</text>
<rect x="818" y="987" width="27" height="20" fill="#fff" stroke="#111" stroke-width="1"/><rect x="820" y="994" width="23" height="6" fill="#000"/><text class="lg" x="848" y="1002">煤层</text>
</g>
</svg>
